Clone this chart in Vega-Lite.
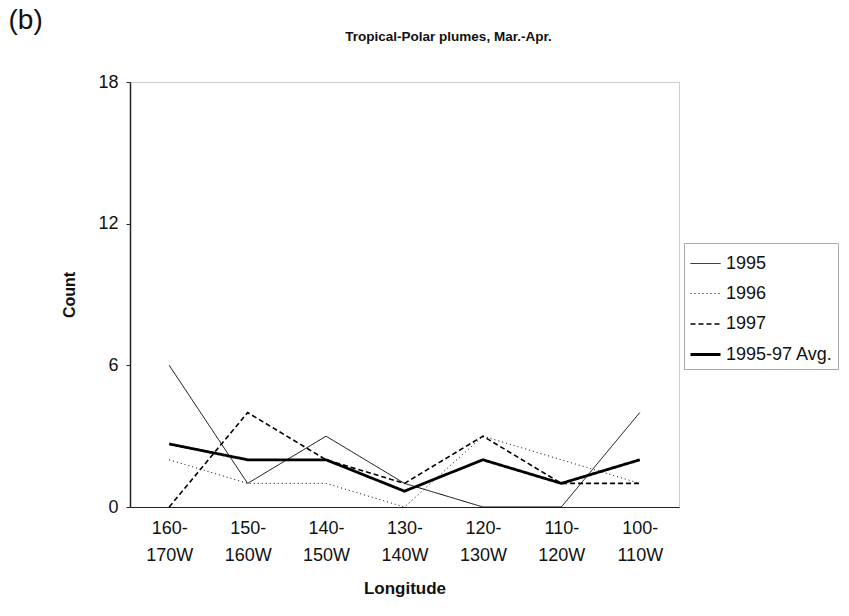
{
  "$schema": "https://vega.github.io/schema/vega-lite/v6.json",
  "width": 549,
  "height": 425,
  "autosize": {"type": "none"},
  "padding": {"left": 130, "top": 82, "right": 170, "bottom": 109},
  "background": "white",
  "config": {
    "font": "Liberation Sans",
    "view": {"stroke": "#999999", "strokeDash": [1, 1], "strokeWidth": 1},
    "axis": {"grid": false, "labelFont": "Liberation Sans", "titleFont": "Liberation Sans", "labelColor": "#111", "titleColor": "#111", "domainColor": "#222", "tickColor": "#222"}
  },
  "data": {
    "values": [
      {"lon": "160-170W", "series": "1995", "count": 6},
      {"lon": "150-160W", "series": "1995", "count": 1},
      {"lon": "140-150W", "series": "1995", "count": 3},
      {"lon": "130-140W", "series": "1995", "count": 1},
      {"lon": "120-130W", "series": "1995", "count": 0},
      {"lon": "110-120W", "series": "1995", "count": 0},
      {"lon": "100-110W", "series": "1995", "count": 4},
      {"lon": "160-170W", "series": "1996", "count": 2},
      {"lon": "150-160W", "series": "1996", "count": 1},
      {"lon": "140-150W", "series": "1996", "count": 1},
      {"lon": "130-140W", "series": "1996", "count": 0},
      {"lon": "120-130W", "series": "1996", "count": 3},
      {"lon": "110-120W", "series": "1996", "count": 2},
      {"lon": "100-110W", "series": "1996", "count": 1},
      {"lon": "160-170W", "series": "1997", "count": 0},
      {"lon": "150-160W", "series": "1997", "count": 4},
      {"lon": "140-150W", "series": "1997", "count": 2},
      {"lon": "130-140W", "series": "1997", "count": 1},
      {"lon": "120-130W", "series": "1997", "count": 3},
      {"lon": "110-120W", "series": "1997", "count": 1},
      {"lon": "100-110W", "series": "1997", "count": 1},
      {"lon": "160-170W", "series": "1995-97 Avg.", "count": 2.67},
      {"lon": "150-160W", "series": "1995-97 Avg.", "count": 2},
      {"lon": "140-150W", "series": "1995-97 Avg.", "count": 2},
      {"lon": "130-140W", "series": "1995-97 Avg.", "count": 0.67},
      {"lon": "120-130W", "series": "1995-97 Avg.", "count": 2},
      {"lon": "110-120W", "series": "1995-97 Avg.", "count": 1},
      {"lon": "100-110W", "series": "1995-97 Avg.", "count": 2}
    ]
  },
  "resolve": {"axis": {"x": "independent", "y": "independent"}},
  "layer": [
    {
      "mark": {"type": "line", "color": "black"},
      "encoding": {
        "x": {
          "field": "lon", "type": "ordinal",
          "sort": ["160-170W", "150-160W", "140-150W", "130-140W", "120-130W", "110-120W", "100-110W"],
          "scale": {"type": "point", "padding": 0.5},
          "axis": {
            "title": "Longitude", "titleFontSize": 17, "titleFontWeight": "bold", "titlePadding": 16,
            "labelFontSize": 18, "labelAngle": 0, "labelPadding": 12, "ticks": false,
            "labelExpr": "[slice(datum.label, 0, 4), slice(datum.label, 4)]",
            "labelLineHeight": 27, "domainWidth": 1.2
          }
        },
        "y": {
          "field": "count", "type": "quantitative",
          "scale": {"domain": [0, 18], "nice": false},
          "axis": {
            "title": "Count", "titleFontSize": 16, "titleFontWeight": "bold", "titlePadding": 20,
            "values": [0, 6, 12, 18], "labelFontSize": 18, "labelPadding": 8, "tickSize": 4, "domainWidth": 1.5
          }
        },
        "strokeDash": {
          "field": "series", "type": "ordinal",
          "scale": {"domain": ["1995", "1996", "1997", "1995-97 Avg."], "range": [[1, 0], [1, 3], [5, 3], [1, 0]]},
          "legend": {
            "title": null, "orient": "none", "legendX": 554, "legendY": 161,
            "symbolType": "stroke", "symbolSize": 900, "symbolStrokeColor": "black",
            "labelFontSize": 18, "labelColor": "#111", "labelFont": "Liberation Sans", "rowPadding": 5,
            "strokeColor": "#aaaaaa", "padding": 5, "labelOffset": 4
          }
        },
        "strokeWidth": {
          "field": "series", "type": "ordinal",
          "scale": {"type": "ordinal", "domain": ["1995", "1996", "1997", "1995-97 Avg."], "range": [1, 1, 1.6, 2.8]}
        },
        "detail": {"field": "series"}
      }
    },
    {
      "mark": {"type": "line", "opacity": 0},
      "encoding": {
        "x": {
          "field": "lon", "type": "ordinal",
          "sort": ["160-170W", "150-160W", "140-150W", "130-140W", "120-130W", "110-120W", "100-110W"],
          "scale": {"type": "point", "padding": 0.5},
          "axis": {"orient": "top", "title": "Tropical-Polar plumes, Mar.-Apr.", "labels": false, "ticks": false, "domain": false,
                   "titleFontSize": 13.5, "titleFontWeight": "bold", "titleX": 318, "titleY": -46, "titleAlign": "center", "titleBaseline": "middle", "titleAnchor": null}
        },
        "y": {
          "field": "count", "type": "quantitative",
          "axis": {"orient": "right", "title": "(b)", "labels": false, "ticks": false, "domain": false,
                   "titleAngle": 0, "titleFontSize": 28, "titleFontWeight": "normal", "titleX": -671, "titleY": -62, "titleAlign": "left", "titleBaseline": "middle"}
        },
        "detail": {"field": "series"}
      }
    }
  ]
}
